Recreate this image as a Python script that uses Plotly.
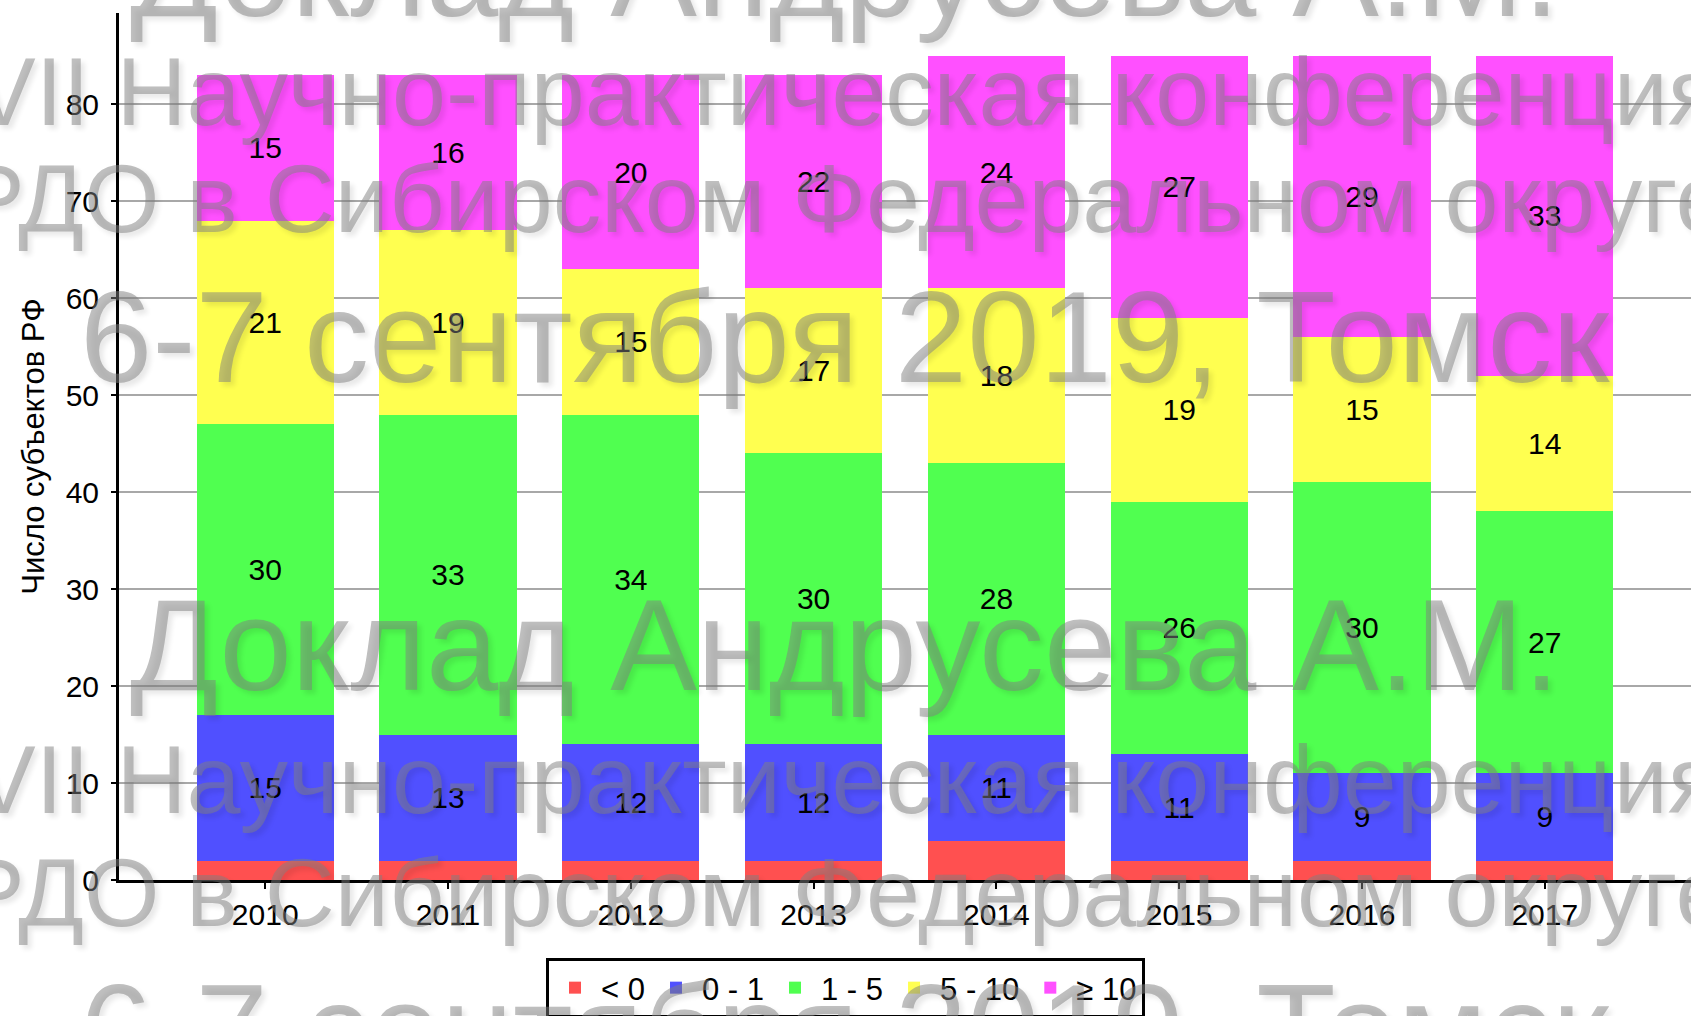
import plotly.graph_objects as go

years = ["2010", "2011", "2012", "2013", "2014", "2015", "2016", "2017"]
series_names = ["< 0", "0 - 1", "1 - 5", "5 - 10", "≥ 10"]
below_zero = [2, 2, 2, 2, 4, 2, 2, 2]
zero_one = [15, 13, 12, 12, 11, 11, 9, 9]
one_five = [30, 33, 34, 30, 28, 26, 30, 27]
five_ten = [21, 19, 15, 17, 18, 19, 15, 14]
ten_plus = [15, 16, 20, 22, 24, 27, 29, 33]
y_ticks = [0, 10, 20, 30, 40, 50, 60, 70, 80]
y_title = "Число субъектов РФ"

watermark_lines = [
    "Доклад Андрусева А.М.",
    "VII Научно-практическая конференция",
    "РДО в Сибирском Федеральном округе",
    "6-7 сентября 2019, Томск",
]

colors = ["#FF5050", "#5050FF", "#50FF50", "#FFFF50", "#FF50FF"]
series = [below_zero, zero_one, one_five, five_ten, ten_plus]
show_labels = [False, True, True, True, True]

FONT = "Liberation Sans, Arial, sans-serif"

fig = go.Figure()
for name, vals, col, lab in zip(series_names, series, colors, show_labels):
    fig.add_trace(go.Bar(
        x=years, y=vals, name=name,
        marker=dict(color=col, line=dict(width=0)),
        text=vals if lab else None,
        textposition="inside" if lab else "none",
        insidetextanchor="middle",
        textangle=0,
        textfont=dict(family=FONT, size=30, color="black"),
        constraintext="none",
    ))

# watermark annotations (paper coords of plot area)
W, H = 1691, 1016
L, R, T, B = 119, 0, 13, 136
pw, ph = W - L - R, H - T - B


def px_to_paper(X, Y):
    return (X - L) / pw, (H - B - Y) / ph


wm_specs = [
    (0, -29, 130), (1, 92, 97), (2, 198, 97), (3, 337, 130),
    (0, 645, 130), (1, 779, 97), (2, 893, 97), (3, 1030, 130),
]
annotations = []
for idx, Y, size in wm_specs:
    xp, yp = px_to_paper(845, Y)
    annotations.append(dict(
        text=watermark_lines[idx], xref="paper", yref="paper",
        x=xp, y=yp, xanchor="center", yanchor="middle", showarrow=False,
        font=dict(family=FONT, size=size, color="rgba(128,128,128,0.5)",
                  shadow="4px 4px 5px rgba(0,0,0,0.18)"),
    ))

fig.update_layout(
    width=W, height=H,
    margin=dict(l=L, r=R, t=T, b=B, autoexpand=False),
    paper_bgcolor="white", plot_bgcolor="white",
    barmode="stack", bargap=0.25,
    font=dict(family=FONT, size=30, color="black"),
    showlegend=True,
    legend=dict(
        orientation="h", xref="container", yref="container",
        x=0.5, xanchor="center", y=1 - 958 / H, yanchor="top",
        bordercolor="black", borderwidth=3, bgcolor="white",
        font=dict(family=FONT, size=31, color="black"),
        traceorder="normal", itemwidth=42,
    ),
    xaxis=dict(
        type="category", range=[-0.8, 7.8],
        showline=True, linecolor="black", linewidth=3,
        ticks="outside", ticklen=6, tickwidth=2, tickcolor="black",
        ticklabelstandoff=0, showgrid=False,
        tickfont=dict(family=FONT, size=30, color="black"),
    ),
    yaxis=dict(
        range=[0, 89.4], tickvals=y_ticks,
        showline=True, linecolor="black", linewidth=3,
        ticks="outside", ticklen=5, tickwidth=2, tickcolor="black",
        ticklabelstandoff=6,
        showgrid=True, gridcolor="#A8A8A8", gridwidth=1.5,
        zeroline=False,
        tickfont=dict(family=FONT, size=30, color="black"),
        title=dict(text=y_title, standoff=12,
                   font=dict(family=FONT, size=31, color="black")),
    ),
    annotations=annotations,
)

fig.write_html("out.html", config={"displayModeBar": False},
               post_script="document.body.style.margin='0';")
